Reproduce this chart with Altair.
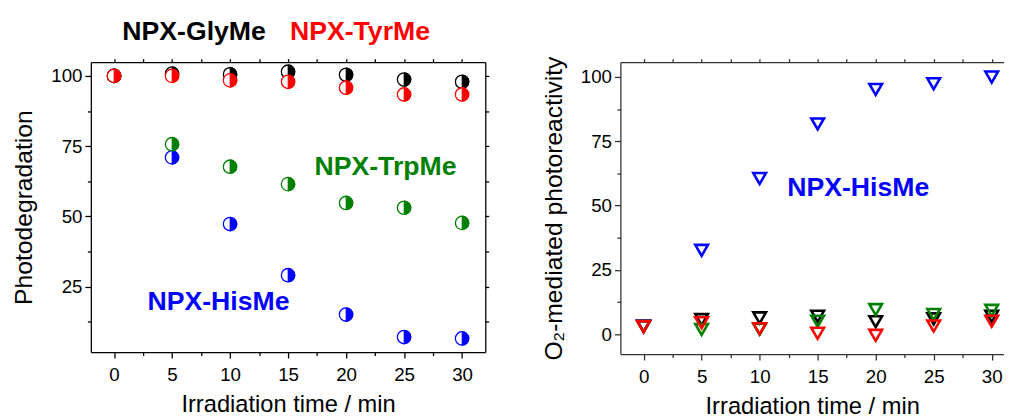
import altair as alt
import pandas as pd

FONT = "Liberation Sans"

time_min = [0, 5, 10, 15, 20, 25, 30]

# Left panel: photodegradation
gly_deg = [100, 100.8, 100.6, 101.5, 100.4, 98.7, 97.9]
tyr_deg = [100, 100, 98.4, 97.9, 95.8, 93.4, 93.4]
trp_deg = [100, 75.7, 67.7, 61.5, 54.8, 53.1, 47.7]
his_deg = [100, 71.0, 47.3, 29.1, 15.1, 7.1, 6.6]

# Right panel: O2-mediated photoreactivity
gly_o2 = [3.0, 5.7, 6.4, 7.0, 4.9, 6.0, 7.0]
tyr_o2 = [3.0, 4.5, 2.2, 0.4, -0.4, 3.2, 5.1]
trp_o2 = [3.0, 1.9, 2.0, 5.1, 9.6, 7.7, 9.3]
his_o2 = [3.2, 32.6, 60.5, 81.7, 95.1, 97.3, 99.9]

series_names = ["NPX-HisMe", "NPX-TrpMe", "NPX-GlyMe", "NPX-TyrMe"]
series_colors = ["#0000FF", "#008000", "#000000", "#FF0000"]
right_order = ["NPX-HisMe", "NPX-GlyMe", "NPX-TrpMe", "NPX-TyrMe"]

left_values = {"NPX-GlyMe": gly_deg, "NPX-TyrMe": tyr_deg,
               "NPX-TrpMe": trp_deg, "NPX-HisMe": his_deg}
right_values = {"NPX-GlyMe": gly_o2, "NPX-TyrMe": tyr_o2,
                "NPX-TrpMe": trp_o2, "NPX-HisMe": his_o2}
color_of = dict(zip(series_names, series_colors))

# annotation texts (label, x in min, y in data units, colour)
left_labels = ["NPX-GlyMe", "NPX-TyrMe", "NPX-TrpMe", "NPX-HisMe"]
left_label_x = [6.9, 21.2, 23.4, 9.0]
left_label_y = [115.6, 115.6, 67.7, 19.6]
right_labels = ["NPX-HisMe"]
right_label_x = [18.5]
right_label_y = [56.7]

x_major = [0, 5, 10, 15, 20, 25, 30]
x_minor = [2.5, 7.5, 12.5, 17.5, 22.5, 27.5]
x_all = [0, 2.5, 5, 7.5, 10, 12.5, 15, 17.5, 20, 22.5, 25, 27.5, 30]
yl_major = [25, 50, 75, 100]
yr_major = [0, 25, 50, 75, 100]
y_minor = [12.5, 37.5, 62.5, 87.5]

XL = alt.Scale(domain=[-2, 32], nice=False, zero=False)
YL = alt.Scale(domain=[1.75, 104.9], nice=False, zero=False)
XR = alt.Scale(domain=[-2, 31.06], nice=False, zero=False)
YR = alt.Scale(domain=[-7.66, 105.7], nice=False, zero=False)

FULL = "M-1,0A1,1 0 1,1 1,0A1,1 0 1,1 -1,0Z"
HALF = "M0,-1A1,1 0 0,1 0,1Z"


def axes(kind, col, ytitle, ymajor):
    common = dict(grid=False, domainColor=col, tickColor=col, labelColor="black",
                  labelFont=FONT, titleFont=FONT, domainWidth=1.3, tickWidth=1.3,
                  titleFontWeight="normal", titleColor="black")
    if kind == 0:
        ax = alt.Axis(orient="bottom", values=x_major, tickSize=6, labelPadding=8,
                      labelFontSize=19, title="Irradiation time / min", titleFontSize=24,
                      titlePadding=8, labelOverlap=False, **common)
        ay = alt.Axis(orient="left", values=ymajor, tickSize=6, labelPadding=3,
                      labelFontSize=19, title=ytitle, titleFontSize=25,
                      titlePadding=14, labelOverlap=False, **common)
    elif kind == 1:
        ax = alt.Axis(orient="bottom", values=x_minor, tickSize=3.5, labels=False,
                      domain=False, title=None, **common)
        ay = alt.Axis(orient="left", values=y_minor, tickSize=3.5, labels=False,
                      domain=False, title=None, **common)
    elif kind == 2:
        ax = alt.Axis(orient="top", values=x_all, tickSize=3.5, labels=False,
                      domain=True, title=None, **common)
        ay = None
    elif kind == 3:
        ax = None
        ay = alt.Axis(orient="right", values=y_minor + ymajor, tickSize=3.5,
                      labels=False, domain=True, title=None, **common)
    else:
        ax = None
        ay = None
    return ax, ay


def enc(xs, ys, ax, ay):
    return dict(x=alt.X("t:Q", scale=xs, axis=ax), y=alt.Y("v:Q", scale=ys, axis=ay))


# ---------------- left panel ----------------
left_layers = []
k = 0
for name in series_names:
    df = pd.DataFrame({"t": time_min, "v": left_values[name]})
    col = color_of[name]
    ax, ay = axes(k, "black", "Photodegradation", yl_major)
    k += 1
    left_layers.append(
        alt.Chart(df).mark_point(shape=FULL, filled=True, fill="white", stroke=col,
                                 strokeWidth=1.3, size=185, opacity=1)
        .encode(**enc(XL, YL, ax, ay))
    )
    ax, ay = axes(k, "black", "Photodegradation", yl_major)
    k += 1
    left_layers.append(
        alt.Chart(df).mark_point(shape=HALF, filled=True, fill=col, stroke=col,
                                 strokeWidth=0.8, size=185, opacity=1)
        .encode(**enc(XL, YL, ax, ay))
    )

ldf = pd.DataFrame({"t": left_label_x, "v": left_label_y, "label": left_labels,
                    "c": [color_of[n] for n in left_labels]})
left_layers.append(
    alt.Chart(ldf).mark_text(font=FONT, fontSize=27, fontWeight="bold",
                             align="center", baseline="middle")
    .encode(x=alt.X("t:Q", scale=XL, axis=None), y=alt.Y("v:Q", scale=YL, axis=None),
            text="label:N", color=alt.Color("c:N", scale=None))
)

left = alt.layer(*left_layers).resolve_axis(x="independent", y="independent") \
    .properties(width=400, height=294)

# ---------------- right panel ----------------
right_layers = []
k = 0
RC = "#333333"
for name in right_order:
    df = pd.DataFrame({"t": time_min, "v": right_values[name]})
    col = color_of[name]
    ax, ay = axes(k if k < 3 else 9, RC, "O\u2082-mediated photoreactivity", yr_major)
    k += 1
    right_layers.append(
        alt.Chart(df).mark_point(shape="triangle-down", filled=False, stroke=col,
                                 strokeWidth=2.6, size=165, opacity=1)
        .encode(**enc(XR, YR, ax, ay))
    )

rdf = pd.DataFrame({"t": right_label_x, "v": right_label_y, "label": right_labels,
                    "c": [color_of[n] for n in right_labels]})
right_layers.append(
    alt.Chart(rdf).mark_text(font=FONT, fontSize=27, fontWeight="bold",
                             align="center", baseline="middle")
    .encode(x=alt.X("t:Q", scale=XR, axis=None), y=alt.Y("v:Q", scale=YR, axis=None),
            text="label:N", color=alt.Color("c:N", scale=None))
)

right = alt.layer(*right_layers).resolve_axis(x="independent", y="independent") \
    .properties(width=389, height=296)

chart = alt.hconcat(left, right, spacing=52).properties(
    padding={"left": 4, "top": 7, "right": 0, "bottom": 0}
).configure_view(strokeWidth=0)

chart.save("out.html", embed_options={"renderer": "svg", "actions": False})
